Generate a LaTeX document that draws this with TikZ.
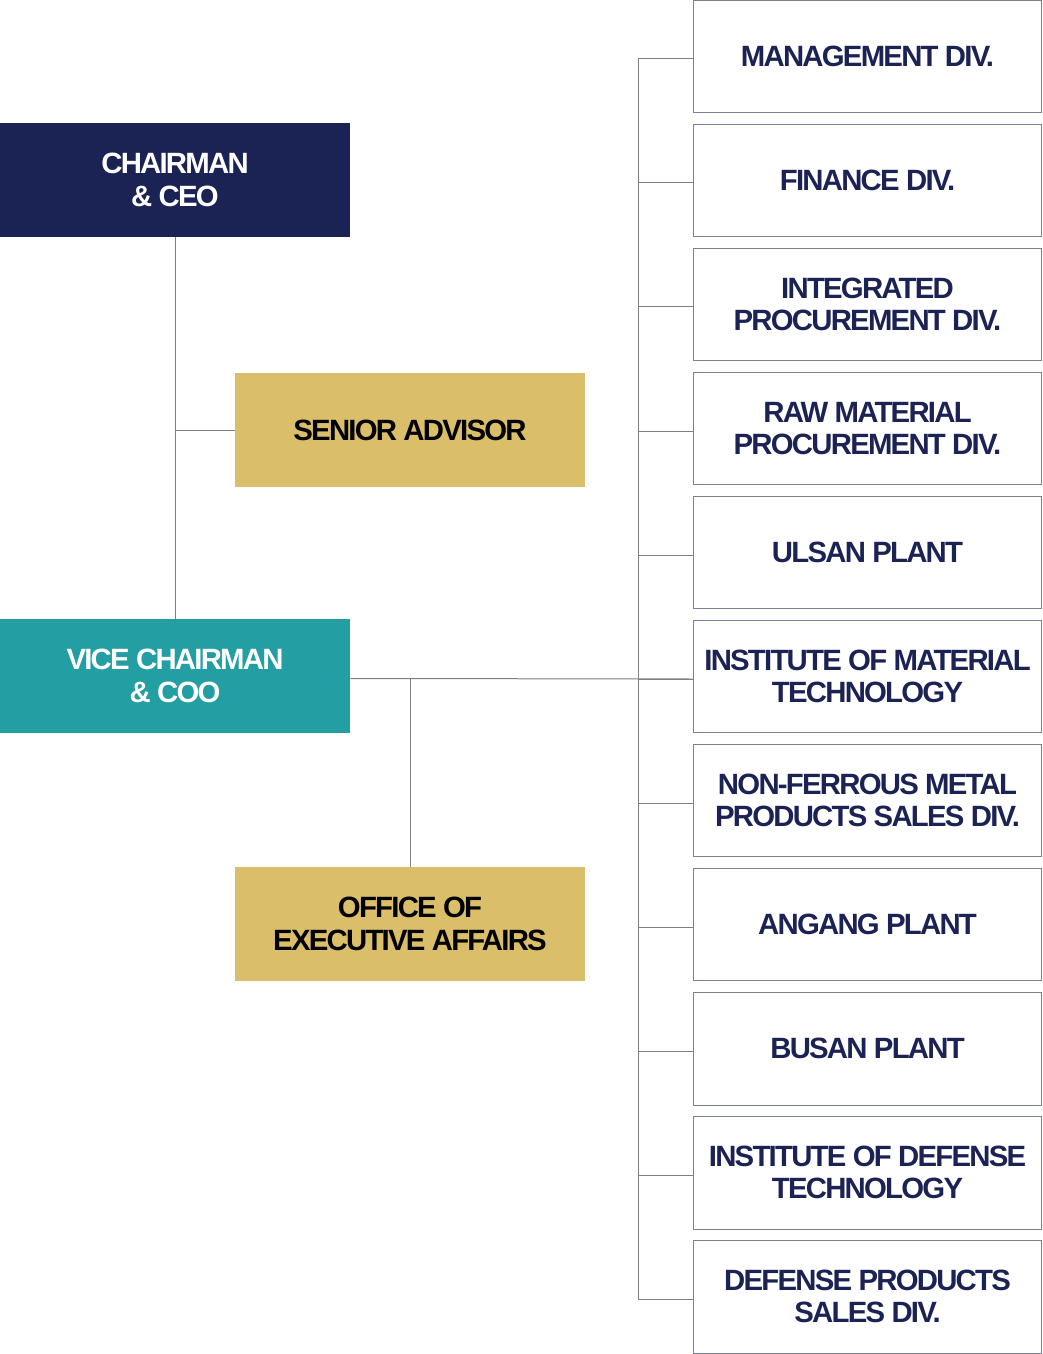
\documentclass[tikz,border=0pt]{standalone}
\usepackage{fontspec}
\setmainfont{Liberation Sans}[LetterSpace=-6]
\usepackage{tikz}
\usetikzlibrary{positioning}
\usepackage{xcolor}
\definecolor{navy}{HTML}{1B2254}
\definecolor{teal}{HTML}{239EA3}
\definecolor{gold}{HTML}{DBBE69}
\definecolor{edge}{HTML}{7A7F9E}
\definecolor{wire}{HTML}{7F7F7F}

\begin{document}
\begin{tikzpicture}[x=0.02cm, y=-0.02cm,
    head/.style={rectangle, minimum width=7cm, minimum height=2.28cm, inner sep=0pt, align=center, font=\fontsize{16.7}{18.4}\selectfont\bfseries},
    unit/.style={rectangle, draw=edge, line width=0.02cm, minimum width=6.98cm, minimum height=2.26cm, inner sep=0pt, align=center, text=navy, font=\fontsize{16.7}{18.4}\selectfont\bfseries},
    wire/.style={draw=wire, line width=0.02cm},
    low/.style={yshift=-0.05cm}]
    \useasboundingbox (0,0) rectangle (1043,1354);

    \node (chair) [head, fill=navy, text=white] at (175,180) {CHAIRMAN\\\& CEO};
    \node (advisor) [head, fill=gold, text=black] at (410,430) {SENIOR ADVISOR};
    \node (vice) [head, fill=teal, text=white] at (175,676) {VICE CHAIRMAN\\\& COO};
    \node (office) [head, fill=gold, text=black] at (410,924) {OFFICE OF\\EXECUTIVE AFFAIRS};

    \foreach \txt [count=\i] in {MANAGEMENT DIV., FINANCE DIV., {INTEGRATED\\PROCUREMENT DIV.},
        {RAW MATERIAL\\PROCUREMENT DIV.}, ULSAN PLANT, {INSTITUTE OF MATERIAL\\TECHNOLOGY},
        {NON-FERROUS METAL\\PRODUCTS SALES DIV.}, ANGANG PLANT, BUSAN PLANT,
        {INSTITUTE OF DEFENSE\\TECHNOLOGY}, {DEFENSE PRODUCTS\\SALES DIV.}}
        \node (div\i) [unit] at (867.5,{56.5+124*(\i-1)}) {\txt};

    \coordinate (bus) at (638,0);
    \draw [wire] ([low]bus |- div1.west) -- ([low]bus |- div11.west);
    \foreach \i in {1,...,11}
        \draw [wire] ([low]bus |- div\i.west) -- ([low]div\i.west);

    \draw [wire] (chair.south) -- (vice.north);
    \draw [wire] (chair.south |- advisor.west) -- (advisor.west);
    \draw [wire] ([low]vice.east) -- ([low]div6.west);
    \draw [wire] ([low]vice.east -| office.north) -- (office.north);
\end{tikzpicture}
\end{document}
